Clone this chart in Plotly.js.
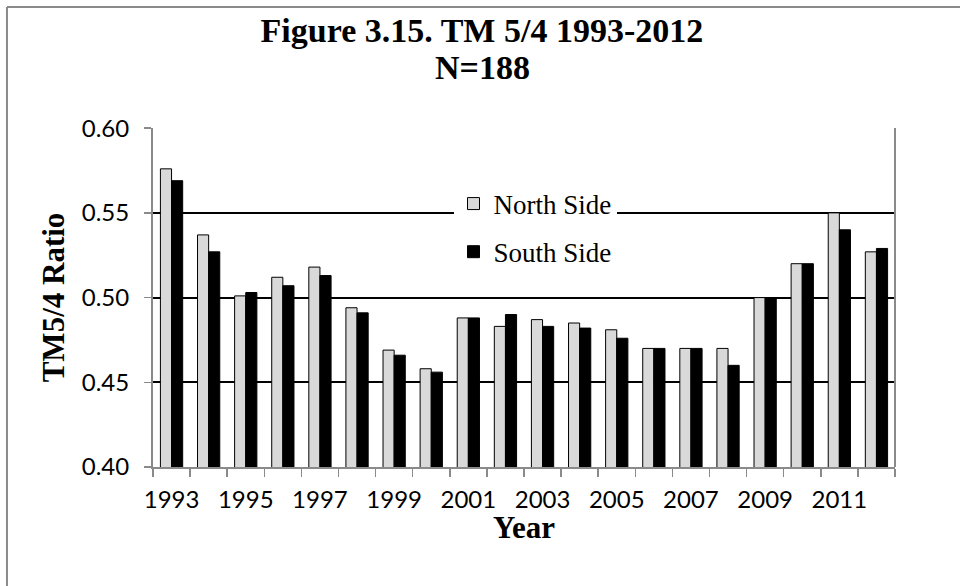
<!DOCTYPE html>
<html>
<head>
<meta charset="utf-8">
<script src="https://cdn.plot.ly/plotly-3.0.1.min.js"></script>
<style>html,body{margin:0;padding:0;background:#fff;}#chart{width:960px;height:586px;}</style>
</head>
<body>
<div id="chart"></div>
<script>
const years = [1993,1994,1995,1996,1997,1998,1999,2000,2001,2002,2003,2004,2005,2006,2007,2008,2009,2010,2011,2012];
const northSide = [0.576,0.537,0.501,0.512,0.518,0.494,0.469,0.458,0.488,0.483,0.487,0.485,0.481,0.470,0.470,0.470,0.500,0.520,0.550,0.527];
const southSide = [0.569,0.527,0.503,0.507,0.513,0.491,0.466,0.456,0.488,0.490,0.483,0.482,0.476,0.470,0.470,0.460,0.500,0.520,0.540,0.529];
const tickYears = [1993,1995,1997,1999,2001,2003,2005,2007,2009,2011];
const tickLabels = tickYears.map(String);
const seriesNames = ['North Side','South Side'];
const titleLine1 = 'Figure 3.15. TM 5/4 1993-2012';
const titleLine2 = 'N=188';
const xTitle = 'Year';
const yTitle = 'TM5/4 Ratio';

const serif = 'Liberation Serif, Times New Roman, serif';
const sans = 'Lato, Carlito, Calibri, sans-serif';
const gray = '#8a8a8a';

const traces = [
  {type:'bar', x:years, y:northSide, name:seriesNames[0], legendgroup:'n',
   marker:{color:'#d9d9d9', line:{color:'#000', width:1}}},
  {type:'bar', x:years, y:southSide, name:seriesNames[1], legendgroup:'s',
   marker:{color:'#000', line:{color:'#000', width:1}}}
];

const layout = {
  width:960, height:586,
  paper_bgcolor:'#fff', plot_bgcolor:'#fff',
  margin:{l:153, r:65, t:128, b:119},
  barmode:'group', bargap:0.4, bargroupgap:0,
  title:{text:'<b>' + titleLine1 + '</b>', x:0.502, xanchor:'center',
         y:1 - 30/586, yanchor:'middle', yref:'container',
         font:{family:serif, size:34, color:'#000'}},
  xaxis:{type:'linear', range:[1992.5,2012.5], tickmode:'array', tickvals:tickYears, ticktext:tickLabels,
         ticks:'', showgrid:false, zeroline:false, showline:true, linecolor:gray, linewidth:2,
         ticklabelstandoff:10,
         tickfont:{family:sans, size:24, color:'#000'},
         minor:{tick0:1992.5, dtick:1, ticks:'outside', ticklen:8, tickcolor:gray, tickwidth:1.5, showgrid:false}},
  yaxis:{range:[0.40,0.6001], tickmode:'linear', tick0:0.40, dtick:0.05, tickformat:'.2f',
         showgrid:true, gridcolor:'#000', gridwidth:2, zeroline:false,
         showline:true, linecolor:gray, linewidth:2,
         ticks:'outside', ticklen:7, tickcolor:gray, tickwidth:1.5,
         ticklabelstandoff:10,
         tickfont:{family:sans, size:24, color:'#000'},
         title:{text:'<b>' + yTitle + '</b>', font:{family:serif, size:31, color:'#000'}, standoff:8}},
  legend:{x:0.405, xanchor:'left', y:0.848, yanchor:'top', bgcolor:'#fff', borderwidth:0,
          traceorder:'grouped', tracegroupgap:10,
          font:{family:serif, size:27, color:'#000'}},
  annotations:[
    {text:'<b>' + titleLine2 + '</b>', xref:'paper', yref:'paper', x:(482-153)/742, y:(467-67)/339,
     xanchor:'center', yanchor:'middle', showarrow:false, font:{family:serif, size:34, color:'#000'}},
    {text:'<b>' + xTitle + '</b>', xref:'paper', yref:'paper', x:0.5, y:(467-527)/339,
     xanchor:'center', yanchor:'middle', showarrow:false, font:{family:serif, size:31, color:'#000'}}
  ],
  shapes:[
    {type:'line', xref:'paper', yref:'paper', x0:1, x1:1, y0:0, y1:1, line:{color:gray, width:2}},
    {type:'line', xref:'paper', yref:'paper', x0:-0.1968, x1:-0.1968, y0:-0.36, y1:1.357, line:{color:gray, width:2}},
    {type:'line', xref:'paper', yref:'paper', x0:-0.1968, x1:1.1, y0:1.357, y1:1.357, line:{color:gray, width:2}}
  ],
  showlegend:true
};

Plotly.newPlot('chart', traces, layout, {displayModeBar:false, staticPlot:true});
</script>
</body>
</html>
